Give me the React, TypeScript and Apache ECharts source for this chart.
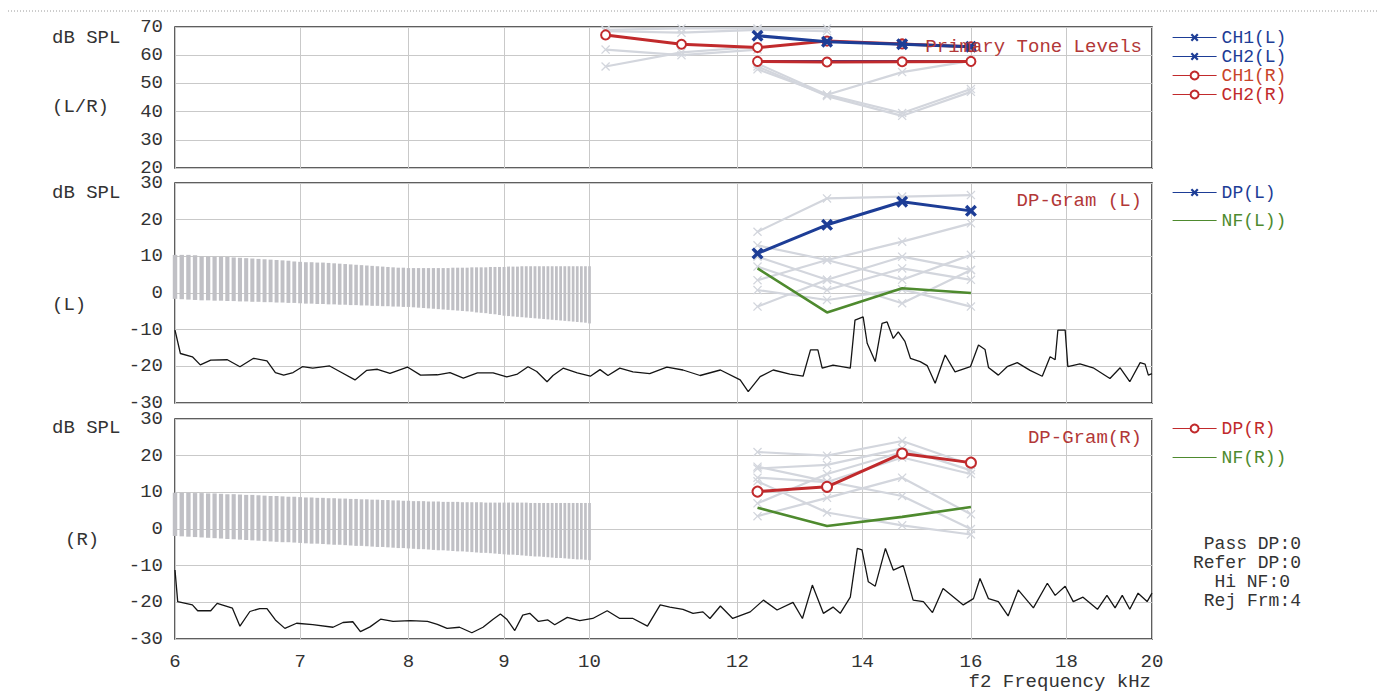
import React, { useEffect, useRef } from "react";
import * as echarts from "echarts";

// ---------- data ----------
const TICK_KHZ = [6, 7, 8, 9, 10, 12, 14, 16, 18, 20];

const DP_F = [12.3, 13.4, 14.7, 16.0];
const CH1_R_F = [10.2, 11.2, 12.3, 13.4, 14.7, 16.0];
const CH1_R = [67.2, 63.9, 62.7, 65.0, 64.0, 63.0];
const CH1_L = [66.9, 64.8, 63.9, 63.0];
const CH2_L = [57.8, 57.8, 57.8, 57.8];
const CH2_R = [57.8, 57.6, 57.7, 57.8];

const DP_L = [10.8, 18.6, 24.9, 22.4];
const NF_L = [6.7, -5.3, 1.3, 0.0];
const DP_R = [10.2, 11.5, 20.6, 18.1];
const NF_R = [5.8, 0.8, 3.3, 6.0];

// previous-test (grey) curves
const GRAY_P1_LOW_F = [10.2, 11.2, 12.3, 13.4];
const GRAY_P1_LOW = [
  [69.0, 69.5, 69.5, 69.5],
  [68.5, 68.0, 69.0, 68.5],
];
const GRAY_P1_MID_F = [10.2, 11.2, 12.3];
const GRAY_P1_MID = [
  [62.0, 60.0, 62.0],
  [56.0, 61.0, 63.0],
];
const GRAY_P1_HIGH = [
  [56.0, 45.5, 38.5, 47.0],
  [57.0, 46.0, 54.0, 58.0],
  [55.0, 46.0, 39.5, 48.0],
];
const GRAY_P2 = [
  [16.7, 25.8, 26.3, 26.7],
  [13.0, 9.0, 14.0, 19.0],
  [9.9, 3.6, 9.9, 6.3],
  [7.2, 0.8, 6.7, 3.6],
  [3.5, 9.0, 3.6, 10.4],
  [0.8, -1.9, 1.0, -3.7],
  [-3.7, 3.6, -2.8, 6.3],
];
const GRAY_P3 = [
  [21.0, 20.0, 24.0, 17.5],
  [16.5, 17.5, 22.0, 16.0],
  [14.0, 12.8, 19.5, 15.0],
  [3.5, 8.5, 14.0, 4.0],
  [13.0, 4.5, 1.0, -1.5],
  [17.0, 13.0, 9.0, 0.0],
  [7.0, 15.0, 21.0, 18.0],
];

// stimulus band stripes (6 - 10 kHz)
const BAND_F = [
  6.0, 6.05, 6.1, 6.15, 6.2, 6.25, 6.3, 6.35, 6.4, 6.45, 6.5, 6.55, 6.6, 6.65, 6.7, 6.75, 6.8, 6.85, 6.9, 6.95, 7.0,
  7.05, 7.1, 7.15, 7.2, 7.25, 7.3, 7.35, 7.4, 7.45, 7.5, 7.55, 7.6, 7.65, 7.7, 7.75, 7.8, 7.85, 7.9, 7.95, 8.0,
  8.05, 8.1, 8.15, 8.2, 8.25, 8.3, 8.35, 8.4, 8.45, 8.5, 8.55, 8.6, 8.65, 8.7, 8.75, 8.8, 8.85, 8.9, 8.95, 9.0,
  9.05, 9.1, 9.15, 9.2, 9.25, 9.3, 9.35, 9.4, 9.45, 9.5, 9.55, 9.6, 9.65, 9.7, 9.75, 9.8, 9.85, 9.9, 9.95, 10.0,
];
const BAND_L_HI = [
  10.4, 10.4, 10.4, 10.3, 10.0, 10.0, 9.9, 9.9, 9.8, 9.7, 9.6, 9.5, 9.4, 9.3, 9.2, 9.1, 9.0, 8.9, 8.8, 8.6, 8.5,
  8.4, 8.4, 8.3, 8.3, 8.2, 8.1, 8.0, 7.9, 7.8, 7.7, 7.6, 7.5, 7.4, 7.3, 7.2, 7.1, 7.0, 6.9, 6.9, 6.8,
  6.8, 6.8, 6.8, 6.8, 6.8, 6.8, 6.8, 6.8, 6.9, 6.9, 6.9, 6.9, 7.0, 7.0, 7.0, 7.0, 7.1, 7.1, 7.1, 7.1,
  7.2, 7.2, 7.2, 7.3, 7.3, 7.3, 7.3, 7.3, 7.3, 7.3, 7.3, 7.3, 7.3, 7.3, 7.3, 7.3, 7.3, 7.3, 7.3, 7.3,
];
const BAND_L_LO = [
  -1.6, -1.7, -1.8, -1.9, -2.0, -2.0, -2.1, -2.1, -2.2, -2.2, -2.3, -2.3, -2.4, -2.4, -2.5, -2.5, -2.6, -2.6, -2.7, -2.7, -2.8,
  -2.9, -2.9, -3.0, -3.0, -3.1, -3.1, -3.2, -3.2, -3.3, -3.3, -3.4, -3.4, -3.5, -3.5, -3.6, -3.6, -3.7, -3.7, -3.8, -3.8,
  -3.9, -4.0, -4.1, -4.2, -4.3, -4.4, -4.5, -4.6, -4.7, -4.8, -4.9, -5.0, -5.1, -5.3, -5.4, -5.5, -5.7, -5.8, -6.0, -6.2,
  -6.3, -6.4, -6.5, -6.6, -6.7, -6.8, -6.9, -7.0, -7.1, -7.2, -7.3, -7.4, -7.5, -7.6, -7.7, -7.8, -7.9, -8.0, -8.1, -8.3,
];
const BAND_R_HI = [
  9.9, 9.9, 9.9, 9.8, 9.8, 9.7, 9.7, 9.6, 9.5, 9.5, 9.4, 9.3, 9.3, 9.2, 9.1, 9.0, 9.0, 8.9, 8.8, 8.8, 8.7,
  8.6, 8.6, 8.5, 8.5, 8.4, 8.4, 8.3, 8.3, 8.2, 8.2, 8.1, 8.1, 8.0, 8.0, 7.9, 7.9, 7.8, 7.8, 7.7, 7.7,
  7.6, 7.6, 7.6, 7.5, 7.5, 7.5, 7.4, 7.4, 7.4, 7.4, 7.3, 7.3, 7.3, 7.3, 7.3, 7.2, 7.2, 7.2, 7.2, 7.2,
  7.2, 7.2, 7.2, 7.2, 7.2, 7.1, 7.1, 7.1, 7.1, 7.1, 7.1, 7.1, 7.1, 7.1, 7.1, 7.1, 7.1, 7.1, 7.1, 7.1,
];
const BAND_R_LO = [
  -1.9, -2.0, -2.1, -2.2, -2.3, -2.4, -2.5, -2.6, -2.7, -2.8, -2.9, -3.0, -3.1, -3.2, -3.3, -3.4, -3.5, -3.6, -3.6, -3.7, -3.8,
  -3.9, -4.0, -4.0, -4.1, -4.2, -4.3, -4.3, -4.4, -4.5, -4.6, -4.6, -4.7, -4.8, -4.9, -4.9, -5.0, -5.1, -5.2, -5.2, -5.3,
  -5.4, -5.5, -5.5, -5.6, -5.7, -5.8, -5.8, -5.9, -6.0, -6.1, -6.1, -6.2, -6.3, -6.4, -6.5, -6.5, -6.6, -6.7, -6.8, -6.9,
  -7.0, -7.0, -7.1, -7.2, -7.3, -7.4, -7.5, -7.5, -7.6, -7.7, -7.8, -7.9, -7.9, -8.0, -8.1, -8.2, -8.3, -8.3, -8.4, -8.5,
];

// noise spectra
const NOISE_L_F = [
  6.0, 6.04, 6.13, 6.19, 6.27, 6.4, 6.5, 6.61, 6.72, 6.79, 6.86, 6.94, 7.02, 7.11, 7.26, 7.35, 7.49, 7.6, 7.7, 7.82,
  7.99, 8.12, 8.29, 8.42, 8.56, 8.71, 8.88, 9.03, 9.15, 9.27, 9.37, 9.49, 9.56, 9.68, 9.85, 10.01, 10.13, 10.23, 10.38,
  10.55, 10.77, 11.0, 11.22, 11.46, 11.75, 12.04, 12.16, 12.34, 12.54, 12.8, 13.01, 13.13, 13.25, 13.32, 13.5, 13.79,
  13.87, 14.01, 14.08, 14.22, 14.34, 14.43, 14.54, 14.63, 14.75, 14.85, 15.03, 15.16, 15.31, 15.5, 15.69, 15.99, 16.15,
  16.28, 16.35, 16.55, 16.73, 16.94, 17.21, 17.47, 17.64, 17.75, 17.81, 17.97, 18.03, 18.3, 18.6, 18.99, 19.23, 19.46,
  19.71, 19.83, 19.91, 20.0,
];
const NOISE_L = [
  -10.1, -16.5, -17.4, -19.6, -18.3, -18.2, -20.1, -17.8, -18.5, -21.7, -22.4, -21.7, -20.1, -20.5, -19.9, -21.4, -23.7, -21.1, -20.8, -21.9,
  -20.2, -22.4, -22.3, -21.7, -23.2, -21.8, -21.8, -22.9, -22.1, -20.1, -21.4, -24.2, -22.5, -20.5, -21.8, -22.7, -20.9, -22.5, -20.5,
  -21.5, -22.0, -20.2, -21.0, -22.5, -21.0, -23.7, -26.9, -22.8, -21.0, -22.1, -22.7, -15.5, -15.5, -20.5, -19.7, -20.5,
  -7.4, -6.5, -13.7, -18.7, -8.3, -7.9, -12.4, -10.6, -13.2, -17.8, -18.7, -19.8, -24.6, -16.9, -21.5, -20.1, -14.2,
  -15.4, -20.3, -22.4, -20.1, -19.0, -21.1, -22.7, -17.4, -18.2, -10.1, -10.1, -20.1, -19.3, -20.4, -23.3, -20.4, -24.2,
  -19.0, -19.4, -22.4, -22.0,
];
const NOISE_R_F = [
  6.0, 6.02, 6.13, 6.17, 6.27, 6.32, 6.44, 6.5, 6.58, 6.66, 6.72, 6.79, 6.87, 6.97, 7.11, 7.29, 7.38, 7.47, 7.54, 7.63,
  7.73, 7.85, 8.02, 8.19, 8.29, 8.39, 8.52, 8.65, 8.77, 8.88, 8.96, 9.03, 9.12, 9.21, 9.29, 9.39, 9.5, 9.58, 9.73, 9.88,
  10.04, 10.22, 10.38, 10.55, 10.74, 10.91, 11.04, 11.22, 11.36, 11.5, 11.6, 11.75, 11.93, 12.19, 12.39, 12.6, 12.85,
  13.0, 13.16, 13.34, 13.5, 13.62, 13.79, 13.91, 13.99, 14.1, 14.22, 14.4, 14.54, 14.72, 14.9, 15.09, 15.26, 15.46,
  15.85, 16.05, 16.18, 16.35, 16.55, 16.75, 16.96, 17.28, 17.58, 17.75, 17.97, 18.15, 18.37, 18.7, 18.92, 19.11, 19.28,
  19.46, 19.66, 19.88, 20.0,
];
const NOISE_R = [
  -11.2, -19.8, -20.7, -22.3, -22.3, -20.3, -21.6, -26.5, -22.5, -21.7, -21.7, -24.8, -27.1, -25.7, -26.1, -26.8, -25.5, -25.3, -28.0, -26.7,
  -24.6, -25.2, -25.0, -25.2, -26.0, -27.1, -26.8, -28.3, -26.8, -24.6, -23.2, -24.6, -27.7, -23.5, -23.0, -25.2, -24.8, -26.1, -24.1, -25.0,
  -24.4, -22.3, -24.4, -24.4, -26.5, -20.7, -21.3, -21.9, -23.0, -22.6, -24.4, -21.0, -24.4, -22.6, -19.4, -22.1, -20.0,
  -24.4, -15.3, -23.0, -21.3, -23.0, -18.6, -5.3, -5.7, -14.4, -15.6, -5.3, -11.2, -10.0, -19.4, -19.8, -22.8, -16.2,
  -20.7, -19.0, -13.5, -19.0, -19.8, -23.7, -16.6, -21.5, -14.8, -18.1, -15.6, -19.8, -18.6, -21.9, -18.1, -21.5, -18.1,
  -21.9, -17.5, -19.8, -17.5,
];

// ---------- styling ----------
const FONT = '"Liberation Mono", "DejaVu Sans Mono", monospace';
const FS = 19;
const BLUE = "#1d3d96";
const RED = "#c12a2c";
const GREEN = "#4e8a2e";
const GRAY = "#d3d6dd";
const TXT = "#333333";
const TITLE_RED = "#b23838";
const X_SYMBOL = "path://M0,2L2,0L5,3L8,0L10,2L7,5L10,8L8,10L5,7L2,10L0,8L3,5Z";
const X_THIN = "path://M0,1L1,0L5,4L9,0L10,1L6,5L10,9L9,10L5,6L1,10L0,9L4,5Z";

const lx = (f: number) => Math.log10(f);
const pts = (fs: number[], vs: number[]) => fs.map((f, i) => [lx(f), vs[i]]);

const GRIDS = [
  { left: 175, top: 27, width: 977, height: 141 },
  { left: 175, top: 183, width: 977, height: 220 },
  { left: 175, top: 419, width: 977, height: 220 },
];

function buildOption() {
  const tickVals = TICK_KHZ.map(lx);
  const grid = GRIDS.map((g) => ({
    ...g,
    show: true,
    backgroundColor: "#ffffff",
    borderColor: "#2b2b2b",
    borderWidth: 1.5,
  }));
  const xAxis = [0, 1, 2].map((i) => ({
    type: "value",
    gridIndex: i,
    min: lx(6),
    max: lx(20),
    axisLine: { show: false },
    axisTick: { show: false, customValues: tickVals },
    axisLabel: {
      show: i === 2,
      customValues: tickVals,
      formatter: (v: number) => String(Math.round(Math.pow(10, v))),
      fontFamily: FONT,
      fontSize: FS,
      lineHeight: 15,
      color: TXT,
      margin: 15,
    },
    splitLine: { show: true, lineStyle: { color: "#c9c9c9", width: 1 } },
  }));
  const yAxis = [
    [20, 70],
    [-30, 30],
    [-30, 30],
  ].map(([mn, mx], i) => ({
    type: "value",
    gridIndex: i,
    min: mn,
    max: mx,
    interval: 10,
    axisLine: { show: false },
    axisTick: { show: false },
    axisLabel: { fontFamily: FONT, fontSize: FS, lineHeight: 14, color: TXT, margin: 12 },
    splitLine: { show: true, lineStyle: { color: "#c9c9c9", width: 1 } },
  }));

  const grayLine = (idx: number, fs: number[], vs: number[]) => ({
    type: "line",
    xAxisIndex: idx,
    yAxisIndex: idx,
    data: pts(fs, vs),
    symbol: X_THIN,
    symbolSize: 9,
    lineStyle: { color: GRAY, width: 2.2 },
    itemStyle: { color: GRAY },
    z: 3,
    silent: true,
  });

  const bandSeries = (idx: number, lo: number[], hi: number[]) => ({
    type: "custom",
    xAxisIndex: idx,
    yAxisIndex: idx,
    silent: true,
    z: 1,
    data: BAND_F.map((f, i) => [lx(f), lo[i], hi[i]]),
    encode: { x: 0, y: [1, 2] },
    renderItem: (params: any, api: any) => {
      const i = params.dataIndex;
      const x = api.value(0);
      const top = api.coord([x, api.value(2)]);
      const bot = api.coord([x, api.value(1)]);
      const j = i < BAND_F.length - 1 ? i + 1 : i - 1;
      const other = api.coord([lx(BAND_F[j]), 0]);
      const w = Math.abs(other[0] - top[0]) * 0.66;
      return {
        type: "rect",
        shape: { x: top[0] - w / 2, y: top[1], width: w, height: bot[1] - top[1] },
        style: { fill: "#c0c0c5" },
      };
    },
  });

  const noiseSeries = (idx: number, fs: number[], vs: number[]) => ({
    type: "line",
    xAxisIndex: idx,
    yAxisIndex: idx,
    data: pts(fs, vs),
    symbol: "none",
    lineStyle: { color: "#151515", width: 1.3 },
    z: 2,
    silent: true,
  });

  const series: any[] = [];
  // panel 1
  GRAY_P1_LOW.forEach((v) => series.push(grayLine(0, GRAY_P1_LOW_F, v)));
  GRAY_P1_MID.forEach((v) => series.push(grayLine(0, GRAY_P1_MID_F, v)));
  GRAY_P1_HIGH.forEach((v) => series.push(grayLine(0, DP_F, v)));
  series.push({
    name: "CH2(L)", type: "line", xAxisIndex: 0, yAxisIndex: 0, data: pts(DP_F, CH2_L),
    symbol: X_SYMBOL, symbolSize: 7, lineStyle: { color: BLUE, width: 3 }, itemStyle: { color: BLUE }, z: 4,
  });
  series.push({
    name: "CH1(R)", type: "line", xAxisIndex: 0, yAxisIndex: 0, data: pts(CH1_R_F, CH1_R),
    symbol: "emptyCircle", symbolSize: 9, lineStyle: { color: RED, width: 3 },
    itemStyle: { color: RED, borderWidth: 2.5 }, z: 5,
  });
  series.push({
    name: "CH2(R)", type: "line", xAxisIndex: 0, yAxisIndex: 0, data: pts(DP_F, CH2_R),
    symbol: "emptyCircle", symbolSize: 9, lineStyle: { color: RED, width: 3 },
    itemStyle: { color: RED, borderWidth: 2.5 }, z: 5,
  });
  series.push({
    name: "CH1(L)", type: "line", xAxisIndex: 0, yAxisIndex: 0, data: pts(DP_F, CH1_L),
    symbol: X_SYMBOL, symbolSize: 12, lineStyle: { color: BLUE, width: 3 }, itemStyle: { color: BLUE }, z: 6,
  });

  // panel 2
  series.push(bandSeries(1, BAND_L_LO, BAND_L_HI));
  series.push(noiseSeries(1, NOISE_L_F, NOISE_L));
  GRAY_P2.forEach((v) => series.push(grayLine(1, DP_F, v)));
  series.push({
    name: "NF(L))", type: "line", xAxisIndex: 1, yAxisIndex: 1, data: pts(DP_F, NF_L),
    symbol: "none", lineStyle: { color: GREEN, width: 2.6 }, itemStyle: { color: GREEN }, z: 4,
  });
  series.push({
    name: "DP(L)", type: "line", xAxisIndex: 1, yAxisIndex: 1, data: pts(DP_F, DP_L),
    symbol: X_SYMBOL, symbolSize: 12, lineStyle: { color: BLUE, width: 3 }, itemStyle: { color: BLUE }, z: 5,
  });

  // panel 3
  series.push(bandSeries(2, BAND_R_LO, BAND_R_HI));
  series.push(noiseSeries(2, NOISE_R_F, NOISE_R));
  GRAY_P3.forEach((v) => series.push(grayLine(2, DP_F, v)));
  series.push({
    name: "NF(R))", type: "line", xAxisIndex: 2, yAxisIndex: 2, data: pts(DP_F, NF_R),
    symbol: "none", lineStyle: { color: GREEN, width: 2.6 }, itemStyle: { color: GREEN }, z: 4,
  });
  series.push({
    name: "DP(R)", type: "line", xAxisIndex: 2, yAxisIndex: 2, data: pts(DP_F, DP_R),
    symbol: "emptyCircle", symbolSize: 10, lineStyle: { color: RED, width: 3 },
    itemStyle: { color: RED, borderWidth: 2.5 }, z: 5,
  });

  const legendBase = {
    orient: "vertical",
    left: 1167,
    itemWidth: 44,
    itemHeight: 10,
    selectedMode: false,
    lineStyle: { width: 1.2 },
    textStyle: { fontFamily: FONT, fontSize: 18, lineHeight: 19 },
  };
  const noDot = { opacity: 0 };
  const legend = [
    {
      ...legendBase,
      top: 23,
      itemGap: 0,
      data: [
        { name: "CH1(L)", textStyle: { color: BLUE } },
        { name: "CH2(L)", textStyle: { color: BLUE } },
        { name: "CH1(R)", textStyle: { color: "#c8442a" } },
        { name: "CH2(R)", textStyle: { color: RED } },
      ],
    },
    {
      ...legendBase,
      top: 178,
      itemGap: 9,
      data: [
        { name: "DP(L)", textStyle: { color: BLUE } },
        { name: "NF(L))", textStyle: { color: GREEN }, itemStyle: noDot },
      ],
    },
    {
      ...legendBase,
      top: 414,
      itemGap: 10,
      data: [
        { name: "DP(R)", textStyle: { color: RED } },
        { name: "NF(R))", textStyle: { color: GREEN }, itemStyle: noDot },
      ],
    },
  ];

  const txt = (text: string, x: number, y: number, align = "left", fill = TXT, size = FS) => ({
    type: "text",
    x,
    y,
    silent: true,
    z: 100,
    style: {
      text,
      fill,
      fontFamily: FONT,
      fontSize: size,
      lineHeight: 15,
      align,
      verticalAlign: "middle",
      textAlign: align,
      textVerticalAlign: "middle",
    },
  });

  const graphic = [
    {
      type: "line",
      shape: { x1: 8, y1: 11, x2: 1379, y2: 11 },
      style: { stroke: "#9a9a9a", lineWidth: 1, lineDash: [1, 2] },
      silent: true,
    },
    txt("dB SPL", 52, 38),
    txt("(L/R)", 52, 107),
    txt("dB SPL", 52, 193),
    txt("(L)", 52, 305),
    txt("dB SPL", 52, 428),
    txt("(R)", 65, 540),
    txt("Primary Tone Levels", 1142, 47, "right", TITLE_RED),
    txt("DP-Gram (L)", 1142, 201, "right", TITLE_RED),
    txt("DP-Gram(R)", 1142, 438, "right", TITLE_RED),
    txt("Pass DP:0", 1301, 544, "right", TXT, 18),
    txt("Refer DP:0", 1301, 563, "right", TXT, 18),
    txt("Hi NF:0", 1290, 582, "right", TXT, 18),
    txt("Rej Frm:4", 1301, 601, "right", TXT, 18),
    txt("f2 Frequency kHz", 1151, 682, "right"),
  ];

  return {
    animation: false,
    backgroundColor: "#ffffff",
    grid,
    xAxis,
    yAxis,
    legend,
    series,
    graphic,
  };
}

export default function App() {
  const ref = useRef<HTMLDivElement>(null);
  useEffect(() => {
    document.body.style.margin = "0";
    if (!ref.current) return;
    const chart = echarts.init(ref.current, undefined, { renderer: "svg" });
    chart.setOption(buildOption() as any);
    return () => chart.dispose();
  }, []);
  return <div ref={ref} style={{ width: 1379, height: 693 }} />;
}
